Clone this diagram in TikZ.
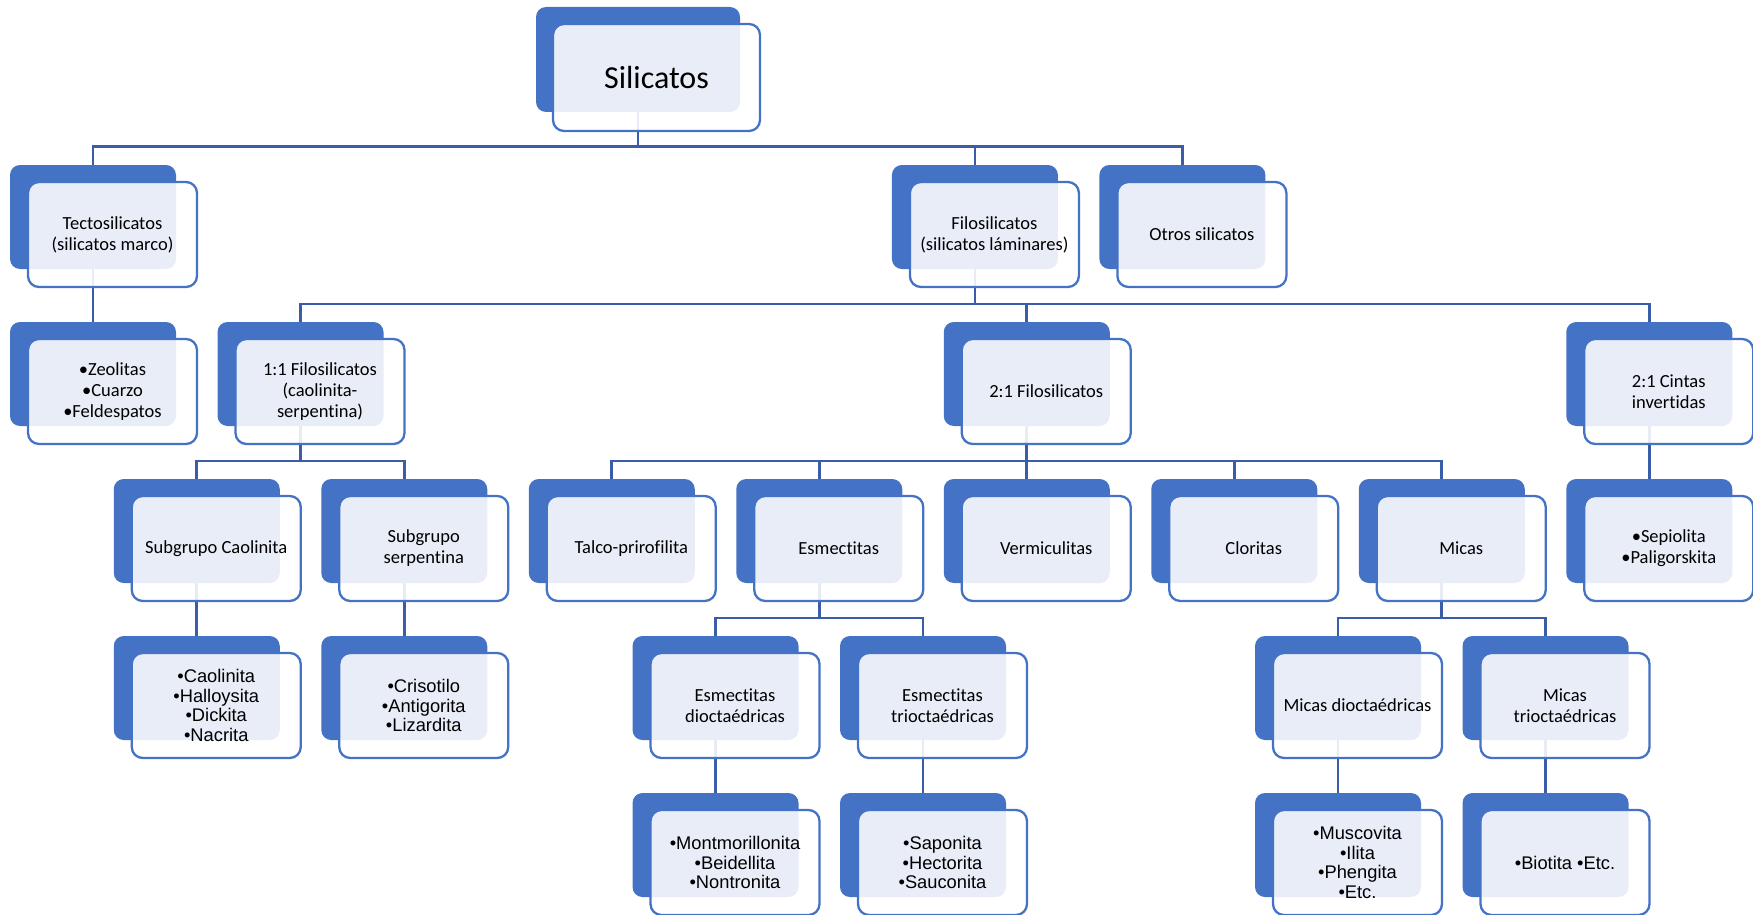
\documentclass[tikz,border=0pt]{standalone}
\usepackage{fontspec}
\setmainfont{Carlito}[Ligatures=NoCommon]
\newfontfamily\arialfam{Liberation Sans}[Ligatures=NoCommon]
\usetikzlibrary{calc}
\definecolor{accent}{RGB}{68,114,196}
\definecolor{linkc}{RGB}{59,93,168}
\pgfdeclarelayer{links}
\pgfsetlayers{links,main}
\tikzset{
  backbox/.style={draw=none, fill=accent, rounded corners=10pt,
    minimum width=166pt, minimum height=104pt, inner sep=0pt},
  frontbox/.style={draw=accent, line width=2.3pt, fill=white, fill opacity=0.88,
    text opacity=1, rounded corners=11pt, minimum width=169pt, minimum height=105pt,
    inner sep=2pt, align=center, text=black, font=\fontsize{18.5}{21}\selectfont},
  listtext/.style={font=\arialfam\fontsize{18.3}{19.7}\selectfont},
  link/.style={draw=linkc, line width=2.6pt},
}
% #2 name, #3 left edge, #4 top edge (of the dark back plate), #5 text
\newcommand\blockat[5][]{%
  \node[backbox] (#2b) at (#3+83,-#4-52) {};
  \node[frontbox,#1] (#2) at (#3+102.5,-#4-69.5) {#5};}
% elbow connector from a parent plate to a child plate
\newcommand\linkto[2]{%
  \draw[link] (#1b.south) |- ($(#2b.north)+(0,18)$) -- (#2b.north);}

\begin{document}
\begin{tikzpicture}[x=1pt,y=1pt]
\useasboundingbox (0,0) rectangle (1753,-915);

% root
\node[backbox, minimum width=204pt, minimum height=105pt] (silb) at (638,-59.5) {};
\node[frontbox, minimum width=207pt, minimum height=107pt,
  font=\fontsize{32}{38}\selectfont] (sil) at (656.5,-77.5) {Silicatos};

% second level
\blockat{tec}{10}{165}{Tectosilicatos\\(silicatos marco)}
\blockat{fil}{891.9}{165}{Filosilicatos\\(silicatos láminares)}
\blockat{otr}{1099.4}{165}{Otros silicatos}

% third level
\blockat{zeo}{10}{322}{•Zeolitas\\•Cuarzo\\•Feldespatos}
\blockat{fa}{217.5}{322}{1:1 Filosilicatos\\(caolinita-\\serpentina)}
\blockat{fb}{943.75}{322}{2:1 Filosilicatos}
\blockat{cin}{1566.25}{322}{2:1 Cintas\\invertidas}

% fourth level
\blockat{sca}{113.75}{479}{Subgrupo Caolinita}
\blockat{sse}{321.25}{479}{Subgrupo\\serpentina}
\blockat{tal}{528.75}{479}{Talco-prirofilita}
\blockat{esm}{736.25}{479}{Esmectitas}
\blockat{ver}{943.75}{479}{Vermiculitas}
\blockat{clo}{1151.25}{479}{Cloritas}
\blockat{mic}{1358.75}{479}{Micas}
\blockat{sep}{1566.25}{479}{•Sepiolita\\•Paligorskita}

% fifth level
\blockat[listtext]{cao}{113.75}{636}{•Caolinita\\•Halloysita\\•Dickita\\•Nacrita}
\blockat[listtext]{cri}{321.25}{636}{•Crisotilo\\•Antigorita\\•Lizardita}
\blockat{edi}{632.5}{636}{Esmectitas\\dioctaédricas}
\blockat{etr}{840}{636}{Esmectitas\\trioctaédricas}
\blockat{mdi}{1255}{636}{Micas dioctaédricas}
\blockat{mtr}{1462.5}{636}{Micas\\trioctaédricas}

% sixth level
\blockat[listtext]{mon}{632.5}{793}{•Montmorillonita\\•Beidellita\\•Nontronita}
\blockat[listtext]{sap}{840}{793}{•Saponita\\•Hectorita\\•Sauconita}
\blockat[listtext]{mus}{1255}{793}{•Muscovita\\•Ilita\\•Phengita\\•Etc.}
\blockat[listtext]{bio}{1462.5}{793}{•Biotita •Etc.}

% connectors, kept underneath the boxes
\begin{pgfonlayer}{links}
  \linkto{sil}{tec}\linkto{sil}{fil}\linkto{sil}{otr}
  \linkto{tec}{zeo}
  \linkto{fil}{fa}\linkto{fil}{fb}\linkto{fil}{cin}
  \linkto{fa}{sca}\linkto{fa}{sse}
  \linkto{fb}{tal}\linkto{fb}{esm}\linkto{fb}{ver}\linkto{fb}{clo}\linkto{fb}{mic}
  \linkto{cin}{sep}
  \linkto{sca}{cao}\linkto{sse}{cri}
  \linkto{esm}{edi}\linkto{esm}{etr}
  \linkto{mic}{mdi}\linkto{mic}{mtr}
  \linkto{edi}{mon}\linkto{etr}{sap}
  \linkto{mdi}{mus}\linkto{mtr}{bio}
\end{pgfonlayer}
\end{tikzpicture}
\end{document}
